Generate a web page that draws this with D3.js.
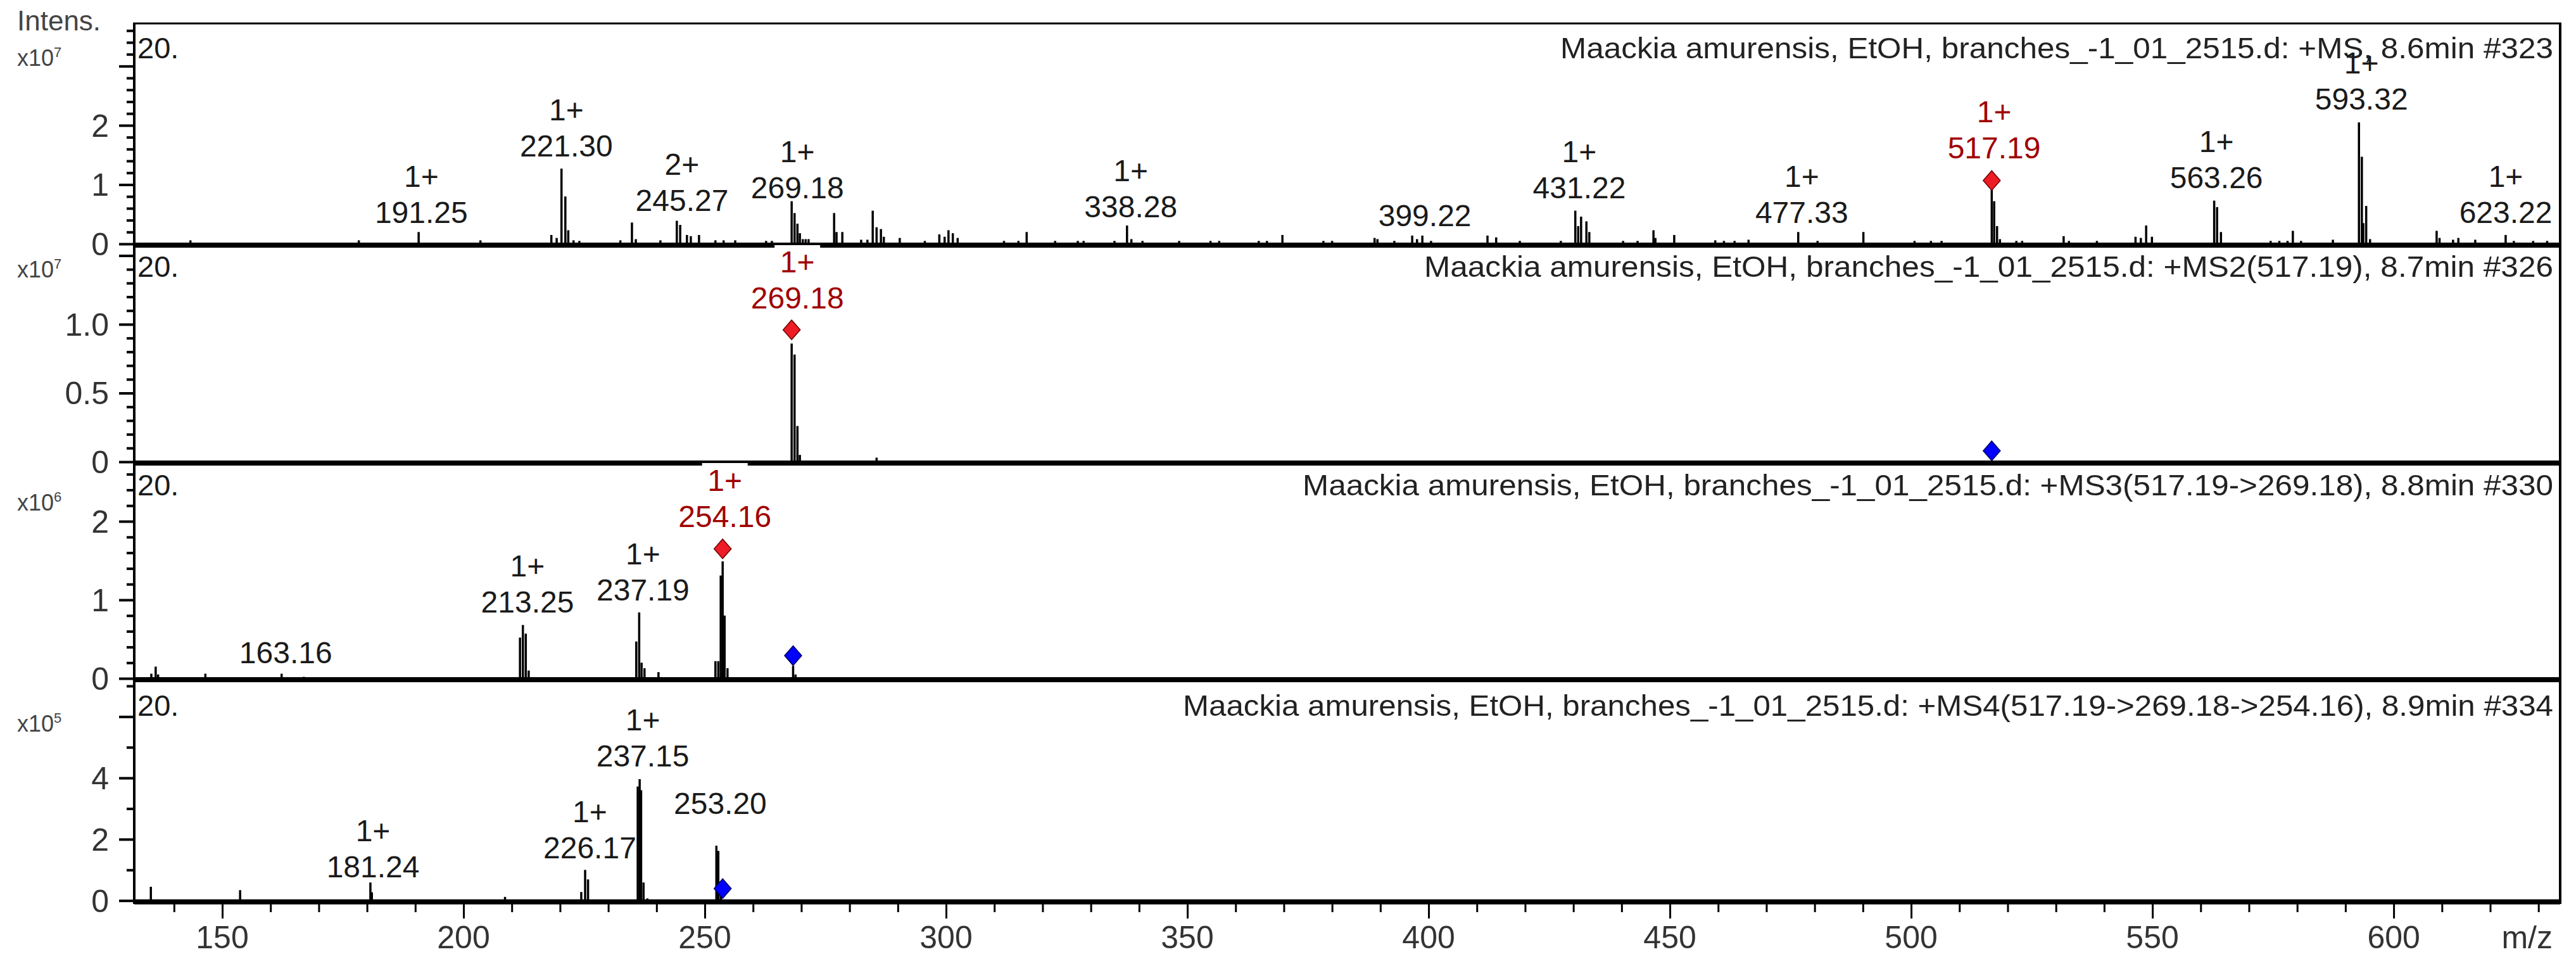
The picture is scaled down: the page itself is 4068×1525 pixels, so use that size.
<!DOCTYPE html>
<html><head><meta charset="utf-8">
<script src="https://cdn.jsdelivr.net/npm/d3@7"></script>
<style>
body{margin:0;background:#fff}
svg{display:block}
text{font-family:"Liberation Sans",Arial,sans-serif;fill:#1a1a1a}
</style>
</head><body>
<svg id="chart" width="4068" height="1525"></svg>
<script>
// ---------------- DATA ----------------
const mzDomain = [131.76, 634.5];
const xTickLabels = [150, 200, 250, 300, 350, 400, 450, 500, 550, 600];
const xTickStep = 10;

const panelTitles = [
  "Maackia amurensis, EtOH, branches_-1_01_2515.d: +MS, 8.6min #323",
  "Maackia amurensis, EtOH, branches_-1_01_2515.d: +MS2(517.19), 8.7min #326",
  "Maackia amurensis, EtOH, branches_-1_01_2515.d: +MS3(517.19->269.18), 8.8min #330",
  "Maackia amurensis, EtOH, branches_-1_01_2515.d: +MS4(517.19->269.18->254.16), 8.9min #334"
];
const panelExponents = [7, 7, 6, 5];
const panelYMax = [3.72, 1.585, 2.758, 7.246];
const yMinorStep = [0.2, 0.1, 0.2, 1];
const yMajorStep = [1, 0.5, 1, 2];
const yTickLabels = [["0","1","2"], ["0","0.5","1.0"], ["0","1","2"], ["0","2","4"]];

// peaks: [m/z, intensity in panel units]
const peaksMS1 = [[143.4,0.06],[178.3,0.06],[190.7,0.20],[203.5,0.06],[218.2,0.15],[219.3,0.10],[220.3,1.27],[221.1,0.80],[221.7,0.23],[222.8,0.06],[224.0,0.05],[232.5,0.06],[234.9,0.36],[235.7,0.08],[240.8,0.06],[244.2,0.39],[244.9,0.32],[246.3,0.15],[247.1,0.13],[248.8,0.15],[252.2,0.06],[253.9,0.06],[256.3,0.06],[262.7,0.05],[263.9,0.05],[268.0,0.72],[268.6,0.52],[269.2,0.34],[269.7,0.18],[270.3,0.08],[270.9,0.08],[271.5,0.08],[276.8,0.52],[277.3,0.2],[278.5,0.2],[282.4,0.07],[283.7,0.07],[284.8,0.56],[285.6,0.28],[286.5,0.25],[287.1,0.12],[290.4,0.1],[295.6,0.05],[298.6,0.16],[299.7,0.12],[300.5,0.23],[301.4,0.18],[302.4,0.1],[312.0,0.05],[315.0,0.05],[316.7,0.2],[322.6,0.05],[327.3,0.05],[328.5,0.05],[334.9,0.05],[337.5,0.31],[338.4,0.08],[340.7,0.05],[348.3,0.05],[354.8,0.05],[356.6,0.05],[364.8,0.05],[366.5,0.05],[369.7,0.15],[378.2,0.05],[380.0,0.05],[388.8,0.1],[389.4,0.08],[392.9,0.05],[396.6,0.14],[397.6,0.08],[398.7,0.14],[400.5,0.05],[412.2,0.14],[414.0,0.11],[418.9,0.05],[427.4,0.05],[430.4,0.56],[431.0,0.3],[431.6,0.46],[432.7,0.38],[433.3,0.2],[440.3,0.05],[443.3,0.05],[446.6,0.23],[447.0,0.1],[450.9,0.15],[459.4,0.06],[461.2,0.05],[463.4,0.05],[466.3,0.07],[476.6,0.2],[480.6,0.05],[490.1,0.2],[500.7,0.05],[504.1,0.05],[506.3,0.05],[516.7,0.95],[517.2,0.72],[517.8,0.3],[518.4,0.08],[521.8,0.05],[523.0,0.05],[531.6,0.13],[532.7,0.05],[538.5,0.05],[546.5,0.12],[547.6,0.1],[548.7,0.31],[549.9,0.12],[562.8,0.73],[563.4,0.62],[564.2,0.2],[574.5,0.05],[576.3,0.05],[578.0,0.05],[579.1,0.22],[580.8,0.05],[587.4,0.07],[592.8,2.05],[593.4,1.47],[593.7,0.35],[594.3,0.64],[595.1,0.08],[608.9,0.22],[609.5,0.1],[612.3,0.07],[613.4,0.1],[616.9,0.07],[623.2,0.15],[624.9,0.05],[628.9,0.05],[631.8,0.05]];
const peaksMS2 = [[268.0,0.86],[268.6,0.78],[269.2,0.26],[269.7,0.05],[285.6,0.03]];
const peaksMS3 = [[135.3,0.06],[136.2,0.15],[136.7,0.05],[146.5,0.06],[162.3,0.06],[166.9,0.02],[211.7,0.52],[212.3,0.68],[212.9,0.57],[213.5,0.1],[235.8,0.47],[236.4,0.84],[236.9,0.2],[237.5,0.13],[240.4,0.08],[252.2,0.22],[252.8,0.22],[253.3,1.31],[253.7,1.49],[254.1,0.8],[254.7,0.13],[268.3,0.16],[268.8,0.05]];
const peaksMS4 = [[135.2,0.45],[153.7,0.34],[180.7,0.59],[181.0,0.27],[208.6,0.12],[224.4,0.28],[225.2,1.0],[225.8,0.69],[236.1,3.72],[236.5,3.96],[236.8,3.6],[237.3,0.59],[238.1,0.07],[252.4,1.79],[252.8,1.62],[253.3,0.2]];

// peak labels: [mass text, charge text, label level (panel units), isPrecursor]
const labelsMS1 = [["191.25","1+",0.35,false],["221.30","1+",1.47,false],["245.27","2+",0.56,false],["269.18","1+",0.77,false],["338.28","1+",0.45,false],["399.22","",0.30,false],["431.22","1+",0.77,false],["477.33","1+",0.35,false],["517.19","1+",1.44,true],["563.26","1+",0.94,false],["593.32","1+",2.27,false],["623.22","1+",0.35,false]];
const labelsMS2 = [["269.18","1+",1.115,true]];
const labelsMS3 = [["163.16","",0.19,false],["213.25","1+",0.84,false],["237.19","1+",0.99,false],["254.16","1+",1.93,true]];
const labelsMS4 = [["181.24","1+",0.76,false],["226.17","1+",1.38,false],["237.15","1+",4.37,false],["253.20","",2.83,false]];

// precursor markers: [m/z, level, kind]
const markersMS1 = [[516.7,1.07,"sel"]];
const markersMS2 = [[268.0,0.96,"sel"],[516.7,0.08,"prec"]];
const markersMS3 = [[253.7,1.65,"sel"],[268.3,0.29,"prec"]];
const markersMS4 = [[253.7,0.39,"prec"]];

const allPeaks = [peaksMS1, peaksMS2, peaksMS3, peaksMS4];
const allLabels = [labelsMS1, labelsMS2, labelsMS3, labelsMS4];
const allMarkers = [markersMS1, markersMS2, markersMS3, markersMS4];

// ---------------- LAYOUT ----------------
const svg = d3.select("#chart");
const plotLeft = 212, plotRight = 4043, frameTop = 37;
const panelZero = [385, 729, 1071, 1421.7];
const panelTop = [frameTop, 385, 729, 1071];
const titleBase = [92, 437, 782, 1130];
const expBase = [104, 438, 806, 1155];
const titleWidth = [1568, 1783, 1975, 2164];

const x = d3.scaleLinear().domain(mzDomain).range([plotLeft, plotRight]);

const diamondType = {
  draw(ctx, size) {
    const w = 13.5, h = 15.5;
    ctx.moveTo(0, -h); ctx.lineTo(w, 0); ctx.lineTo(0, h); ctx.lineTo(-w, 0); ctx.closePath();
  }
};

const FS = 48;

for (let p = 0; p < 4; p++) {
  const y = d3.scaleLinear().domain([0, panelYMax[p]]).range([panelZero[p], panelTop[p]]);
  const g = svg.append("g");

  // y ticks
  const minor = d3.range(0, panelYMax[p] - 1e-6, yMinorStep[p]);
  const yAxis = d3.axisLeft(y).tickValues(minor).tickSize(12).tickFormat("");
  const ya = g.append("g").attr("transform", `translate(${plotLeft},0)`).call(yAxis);
  ya.select(".domain").remove();
  ya.selectAll(".tick line")
    .attr("stroke", "#000").attr("stroke-width", 4)
    .attr("x2", d => Math.abs(d / yMajorStep[p] - Math.round(d / yMajorStep[p])) < 1e-6 ? -24 : -12);
  g.selectAll("text.ylab").data(yTickLabels[p]).join("text")
    .attr("class", "ylab")
    .attr("x", plotLeft - 40)
    .attr("y", d => y(+d))
    .attr("dy", "0.36em")
    .attr("text-anchor", "end")
    .attr("font-size", 50)
    .style("fill", "#333")
    .text(d => d);

  // exponent label
  const ex = g.append("text").attr("x", 27).attr("y", expBase[p]).attr("font-size", 36).style("fill", "#444");
  ex.append("tspan").text("x10");
  ex.append("tspan").attr("dy", -14).attr("font-size", 22).text(panelExponents[p]);

  // "20." label
  g.append("text").attr("x", 217).attr("y", titleBase[p]).attr("font-size", 47).text("20.");

  // title
  g.append("text").attr("x", 4032).attr("y", titleBase[p]).attr("text-anchor", "end")
    .attr("font-size", 47)
    .attr("textLength", titleWidth[p]).attr("lengthAdjust", "spacingAndGlyphs")
    .style("fill", "#222")
    .text(panelTitles[p]);

  // labels
  const lab = g.selectAll("g.lab").data(allLabels[p]).join("g").attr("class", "lab");
  lab.each(function(d) {
    const gg = d3.select(this);
    const cx = x(parseFloat(d[0]));
    const by = y(d[2]);
    const col = d[3] ? "#a00000" : "#1a1a1a";
    const topText = by - 57 - 36;
    if (d[3] && p > 0 && topText - (panelTop[p] + 2) > 0) {
      gg.append("rect").attr("x", cx - 36).attr("y", panelTop[p] + 2)
        .attr("width", 72).attr("height", topText - (panelTop[p] + 2)).attr("fill", "#fff");
    }
    if (d[1]) {
      gg.append("text").attr("x", cx).attr("y", by - 57).attr("text-anchor", "middle")
        .attr("font-size", FS).style("fill", col).text(d[1]);
    }
    gg.append("text").attr("x", cx).attr("y", by).attr("text-anchor", "middle")
      .attr("font-size", FS).style("fill", col).text(d[0]);
  });

  // peaks
  g.selectAll("line.pk").data(allPeaks[p]).join("line").attr("class", "pk")
    .attr("x1", d => x(d[0])).attr("x2", d => x(d[0]))
    .attr("y1", y(0)).attr("y2", d => y(d[1]))
    .attr("stroke", "#000").attr("stroke-width", 3.5);

  // baseline (thick)
  g.append("line").attr("x1", plotLeft).attr("x2", plotRight)
    .attr("y1", y(0) + 2).attr("y2", y(0) + 2)
    .attr("stroke", "#000").attr("stroke-width", 8);

  // markers
  g.selectAll("path.mk").data(allMarkers[p]).join("path").attr("class", "mk")
    .attr("d", d3.symbol().type(diamondType)())
    .attr("transform", d => `translate(${x(d[0])},${y(d[1])})`)
    .attr("fill", d => d[2] === "sel" ? "#ee1c24" : "#0000ff")
    .attr("stroke", d => d[2] === "sel" ? "#6a0000" : "#000060")
    .attr("stroke-width", 1.5);
}

// white notches of label boxes over the baselines (drawn after all panels)
svg.selectAll("g.lab rect").raise();

// frame
svg.append("line").attr("x1", plotLeft - 2).attr("x2", plotRight + 2).attr("y1", frameTop).attr("y2", frameTop)
  .attr("stroke", "#000").attr("stroke-width", 3);
svg.append("line").attr("x1", plotLeft).attr("x2", plotLeft).attr("y1", frameTop).attr("y2", 1427)
  .attr("stroke", "#000").attr("stroke-width", 4);
svg.append("line").attr("x1", plotRight).attr("x2", plotRight).attr("y1", frameTop).attr("y2", 1427)
  .attr("stroke", "#000").attr("stroke-width", 4);

// x axis
const xt = d3.range(140, 631, xTickStep);
const xAxis = d3.axisBottom(x).tickValues(xt).tickSize(13).tickFormat("");
const xa = svg.append("g").attr("transform", `translate(0,1427)`).call(xAxis);
xa.select(".domain").remove();
xa.selectAll(".tick line").attr("stroke", "#000").attr("stroke-width", 3)
  .attr("y2", d => d % 50 === 0 ? 23 : 13);
svg.selectAll("text.xlab").data(xTickLabels).join("text").attr("class", "xlab")
  .attr("x", d => x(d)).attr("y", 1497).attr("text-anchor", "middle")
  .attr("font-size", 50).style("fill", "#333").text(d => d);
svg.append("text").attr("x", 4031).attr("y", 1497).attr("text-anchor", "end")
  .attr("font-size", 50).style("fill", "#333").text("m/z");

// Intens.
svg.append("text").attr("x", 27).attr("y", 48).attr("font-size", 44).style("fill", "#444").text("Intens.");
</script>
</body></html>
